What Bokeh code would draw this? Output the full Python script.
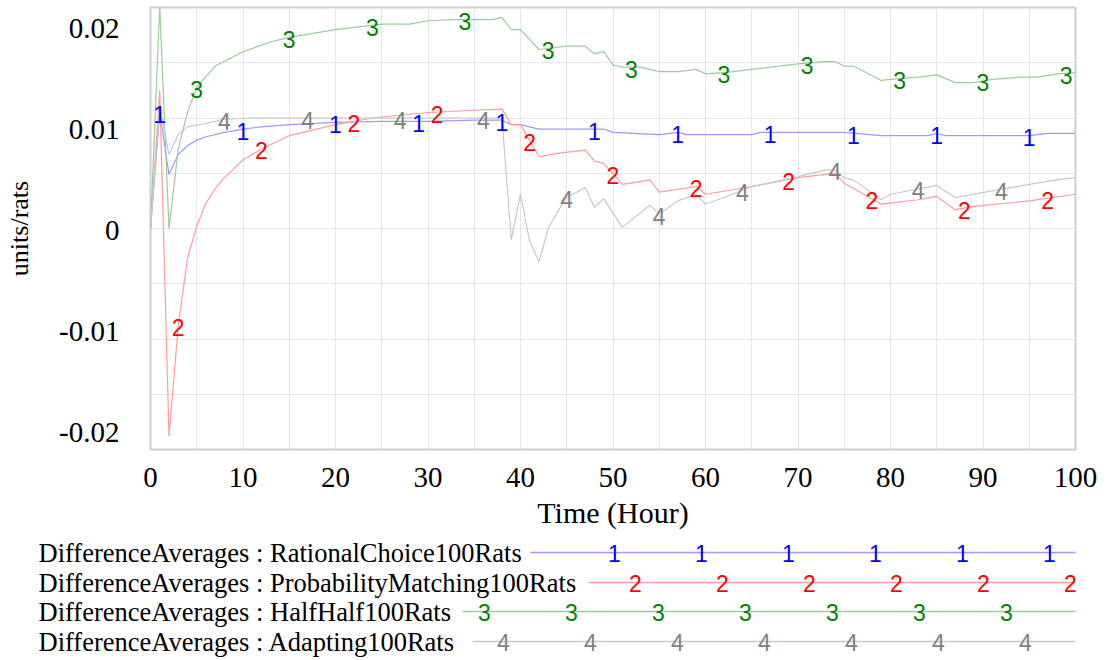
import numpy as np
from bokeh.plotting import figure
from bokeh.models import Range1d, FixedTicker, LinearAxis, Grid
from bokeh.core.properties import value
from bokeh.embed import file_html
from bokeh.resources import INLINE

# ---------------- data ----------------
series_names = [
    "DifferenceAverages : RationalChoice100Rats",
    "DifferenceAverages : ProbabilityMatching100Rats",
    "DifferenceAverages : HalfHalf100Rats",
    "DifferenceAverages : Adapting100Rats",
]
series_marks = ["1", "2", "3", "4"]

rational_t = [0, 1, 2, 3, 4, 5, 6, 8, 10, 12, 15, 20, 25, 30, 35, 38, 39, 40, 42, 49,
              50, 55, 57, 58, 65, 66, 75, 79, 84, 85, 86, 95, 97, 100]
rational_v = [0, 0.0105, 0.0049, 0.0067, 0.0075, 0.0080, 0.0083, 0.0087, 0.0090, 0.0092,
              0.0094, 0.0096, 0.0097, 0.0097, 0.0098, 0.0098, 0.0094, 0.0094, 0.0090, 0.0090,
              0.0087, 0.0085, 0.0087, 0.0085, 0.0085, 0.0087, 0.0087, 0.0084, 0.0084, 0.0086,
              0.0084, 0.0084, 0.0086, 0.0086]

probmatch_t = [0, 1, 2, 3, 4, 5, 6, 7, 8, 10, 12, 15, 20, 24, 30, 35, 38, 39, 40, 42, 44,
               47, 48, 49, 51, 54, 55, 59, 60, 65, 70, 73, 74, 75, 79, 83, 85, 87, 89, 95, 100]
probmatch_v = [0, 0.0125, -0.0188, -0.0088, -0.0027, 0.0002, 0.0023, 0.0036, 0.0046, 0.0062,
               0.0072, 0.0084, 0.0094, 0.0100, 0.0105, 0.0107, 0.0108, 0.0094, 0.0094, 0.0065,
               0.0068, 0.0071, 0.0061, 0.0059, 0.0040, 0.0044, 0.0033, 0.0038, 0.0031, 0.0038,
               0.0046, 0.0049, 0.0050, 0.0041, 0.0022, 0.0026, 0.0029, 0.0017, 0.0020, 0.0025,
               0.0031]

halfhalf_t = [0, 1, 2, 3, 4, 5, 7, 10, 13, 15, 20, 25, 28, 30, 33, 37, 38, 39, 40, 42, 45,
              47, 48, 49, 50, 51, 53, 55, 57, 59, 60, 62, 65, 70, 73, 74, 75, 76, 79, 80, 83,
              85, 87, 89, 91, 94, 96, 98, 100]
halfhalf_v = [0, 0.0201, 0.0, 0.0072, 0.0105, 0.0128, 0.0147, 0.0160, 0.0169, 0.0173, 0.0180,
              0.0185, 0.0185, 0.0188, 0.0189, 0.0189, 0.0191, 0.0180, 0.0180, 0.0162, 0.0165,
              0.0165, 0.0158, 0.0160, 0.0148, 0.0146, 0.0146, 0.0142, 0.0142, 0.0144, 0.0140,
              0.0141, 0.0144, 0.0149, 0.0151, 0.0151, 0.0147, 0.0147, 0.0134, 0.0135, 0.0137,
              0.0139, 0.0132, 0.0132, 0.0135, 0.0137, 0.0137, 0.0140, 0.0141]

adapting_t = [0, 1, 2, 3, 4, 6, 8, 11, 20, 30, 38, 39, 40, 41, 42, 43, 44, 45, 47, 48, 49,
              51, 54, 55, 56, 57, 59, 60, 62, 65, 70, 73, 74, 75, 76, 79, 80, 85, 87, 91, 95,
              98, 100]
adapting_v = [0, 0.0110, 0.0067, 0.0085, 0.0092, 0.0095, 0.0099, 0.0100, 0.0100, 0.0100,
              0.0100, -0.0010, 0.0031, -0.0012, -0.0030, 0.0000, 0.0015, 0.0028, 0.0037,
              0.0019, 0.0027, 0.0001, 0.0021, 0.0013, 0.0019, 0.0025, 0.0031, 0.0022, 0.0028,
              0.0038, 0.0047, 0.0053, 0.0053, 0.0046, 0.0044, 0.0026, 0.0031, 0.0039, 0.0028,
              0.0034, 0.0040, 0.0044, 0.0046]

# times at which the number markers sit on each line
rational_mark_t = [1, 10, 20, 29, 38, 48, 57, 67, 76, 85, 95]
probmatch_mark_t = [3, 12, 22, 31, 41, 50, 59, 69, 78, 88, 97]
halfhalf_mark_t = [5, 15, 24, 34, 43, 52, 62, 71, 81, 90, 99]
adapting_mark_t = [8, 17, 27, 36, 45, 55, 64, 74, 83, 92]

x_ticks = [0, 10, 20, 30, 40, 50, 60, 70, 80, 90, 100]
y_ticks = [-0.02, -0.01, 0, 0.01, 0.02]
y_tick_labels = {-0.02: "-0.02", -0.01: "-0.01", 0: "0", 0.01: "0.01", 0.02: "0.02"}

# ---------------- styles ----------------
mark_colors = ["#0000ff", "#ff0000", "#008000", "#808080"]
line_colors = ["#9a9aff", "#ff9c9c", "#9ccc9c", "#c8c8c8"]
SERIF = "Liberation Serif"
SANS = "Liberation Sans"

W = 1100
MAIN_H = 535
LEG_H = 124

p = figure(width=W, height=MAIN_H, output_backend="svg", toolbar_location=None,
           x_range=Range1d(0, 100), y_range=Range1d(-0.02, 0.02),
           y_axis_location=None,
           min_border_left=150, min_border_right=25, min_border_top=7,
           min_border_bottom=86)
p.background_fill_color = "white"
p.border_fill_color = "white"
p.outline_line_color = "#cfcfcf"
p.outline_line_width = 2

# x axis
p.xaxis.ticker = FixedTicker(ticks=x_ticks)
p.xaxis.axis_line_color = None
p.xaxis.major_tick_line_color = None
p.xaxis.minor_tick_line_color = None
p.xaxis.major_label_text_font = SERIF
p.xaxis.major_label_text_font_size = "29px"
p.xaxis.major_label_text_color = "black"
p.xaxis.major_label_standoff = 12
p.xaxis.axis_label = "Time (Hour)"
p.xaxis.axis_label_text_font = SERIF
p.xaxis.axis_label_text_font_size = "30px"
p.xaxis.axis_label_text_font_style = "normal"
p.xaxis.axis_label_text_color = "black"
p.xaxis.axis_label_standoff = 6

p.xgrid.ticker = FixedTicker(ticks=list(range(0, 101, 5)))
p.xgrid.grid_line_color = "#e6e6e6"
p.xgrid.grid_line_width = 1

ygrid = Grid(dimension=1, ticker=FixedTicker(ticks=y_ticks),
             grid_line_color="#e6e6e6", grid_line_width=1)
p.add_layout(ygrid)

# y axis: labels placed the way the original tool spreads them inside the frame
p.extra_y_ranges = {"lbl": Range1d(-0.021683, 0.02208)}
yax = LinearAxis(y_range_name="lbl", ticker=FixedTicker(ticks=y_ticks))
yax.major_label_overrides = y_tick_labels
yax.axis_line_color = None
yax.major_tick_line_color = None
yax.minor_tick_line_color = None
yax.major_label_text_font = SERIF
yax.major_label_text_font_size = "29px"
yax.major_label_text_color = "black"
yax.major_label_standoff = 25
yax.axis_label = "units/rats"
yax.axis_label_text_font = SERIF
yax.axis_label_text_font_size = "26px"
yax.axis_label_text_font_style = "normal"
yax.axis_label_text_color = "black"
yax.axis_label_standoff = 22
p.add_layout(yax, "left")

all_t = [rational_t, probmatch_t, halfhalf_t, adapting_t]
all_v = [rational_v, probmatch_v, halfhalf_v, adapting_v]
all_mt = [rational_mark_t, probmatch_mark_t, halfhalf_mark_t, adapting_mark_t]

for t, v, lc in zip(all_t, all_v, line_colors):
    p.line(t, v, line_color=lc, line_width=1.2)

for t, v, mt, mk, mc in zip(all_t, all_v, all_mt, series_marks, mark_colors):
    my = np.interp(mt, t, v)
    p.text(x=mt, y=list(my), text=[mk] * len(mt), text_color=mc,
           text_font=value(SANS), text_font_size="23px",
           text_align="center", text_baseline="middle", y_offset=2)

# ---------------- legend strip ----------------
leg = figure(width=W, height=LEG_H, output_backend="svg", toolbar_location=None,
             x_range=Range1d(0, W), y_range=Range1d(LEG_H, 0),
             x_axis_location=None, y_axis_location=None,
             min_border=0, min_border_left=0, min_border_right=0,
             min_border_top=0, min_border_bottom=0)
leg.outline_line_color = None
leg.xgrid.visible = False
leg.ygrid.visible = False

row_y = [17, 47, 76, 106]
line_start = [530, 588, 462, 472]
mark_start = [614, 635, 484, 503]
line_end = 1075
mark_step = 87

leg.text(x=[38] * 4, y=row_y, text=series_names, text_color="black",
         text_font=value(SERIF), text_font_size="26.5px",
         text_align="left", text_baseline="middle")
for i in range(4):
    leg.line([line_start[i], line_end], [row_y[i], row_y[i]],
             line_color=line_colors[i], line_width=1.5)
    xs = list(np.arange(mark_start[i], line_end + 6, mark_step))
    leg.text(x=xs, y=[row_y[i]] * len(xs), text=[series_marks[i]] * len(xs),
             text_color=mark_colors[i], text_font=value(SANS), text_font_size="23px",
             text_align="center", text_baseline="middle", y_offset=1)

open("out.html", "w").write(file_html([p, leg], INLINE))
